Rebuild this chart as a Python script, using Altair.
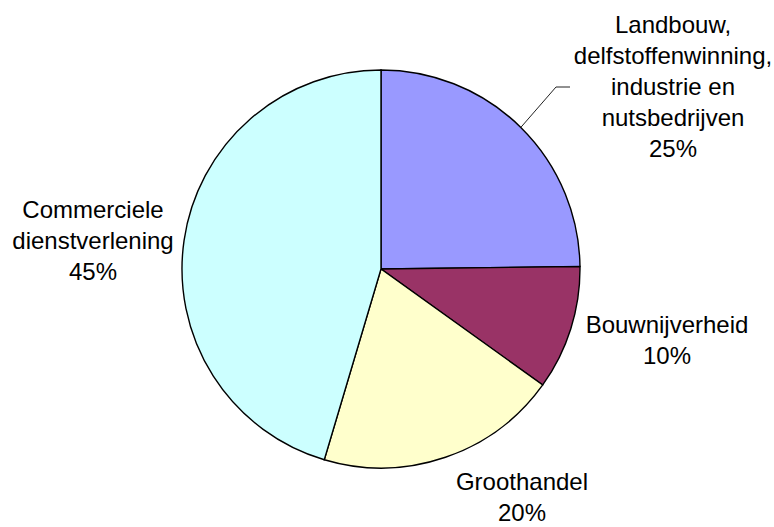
import math
import altair as alt
import pandas as pd

# ---- data ----
categories = [
    "Landbouw, delfstoffenwinning, industrie en nutsbedrijven",
    "Bouwnijverheid",
    "Groothandel",
    "Commerciele dienstverlening",
]
label_lines = [
    "Landbouw,\ndelfstoffenwinning,\nindustrie en\nnutsbedrijven",
    "Bouwnijverheid",
    "Groothandel",
    "Commerciele\ndienstverlening",
]
values = [24.8, 10.1, 19.7, 45.4]
colors = ["#9999FF", "#993366", "#FFFFCC", "#CCFFFF"]

# ---- layout ----
W, H = 774, 527
CX, CY, R = 381, 269, 199
label_x = [673, 667, 522, 93]
label_y = [33, 333, 490, 218]

total = sum(values)
pcts = [round(v / total * 100) for v in values]

df = pd.DataFrame({
    "idx": list(range(len(categories))),
    "category": categories,
    "value": values,
})

lab = pd.DataFrame({
    "text": [f"{l}\n{p}%" for l, p in zip(label_lines, pcts)],
    "lx": label_x,
    "ly": label_y,
})

# leader line for the first slice, starting at the slice's mid-angle on the rim
mid = 2 * math.pi * (values[0] / 2) / total
sx = CX + R * math.sin(mid)
sy = CY - R * math.cos(mid)
leader = pd.DataFrame({
    "o": [0, 1, 2],
    "px": [sx, 556, 570],
    "py": [sy, 87, 87],
})

pie = alt.Chart(df).mark_arc(stroke="black", strokeWidth=1.4, radius=R).encode(
    theta=alt.Theta("value:Q", stack=True),
    color=alt.Color("category:N", scale=alt.Scale(domain=categories, range=colors), legend=None),
    order=alt.Order("idx:Q"),
    x=alt.value(CX),
    y=alt.value(CY),
)

labels = alt.Chart(lab).mark_text(
    font="Liberation Sans", fontSize=24, lineHeight=31, align="center",
    baseline="alphabetic", lineBreak="\n", color="black",
).encode(
    x=alt.X("lx:Q", scale=None),
    y=alt.Y("ly:Q", scale=None),
    text="text:N",
)

line = alt.Chart(leader).mark_line(color="#222222", strokeWidth=1).encode(
    x=alt.X("px:Q", scale=None),
    y=alt.Y("py:Q", scale=None),
    order="o:Q",
)

chart = alt.layer(pie, line, labels).properties(
    width=W, height=H, padding=0, background="white",
    autosize=alt.AutoSizeParams(type="none"),
).configure_view(stroke=None)

chart.save("out.html", embed_options={"renderer": "svg", "actions": False})
